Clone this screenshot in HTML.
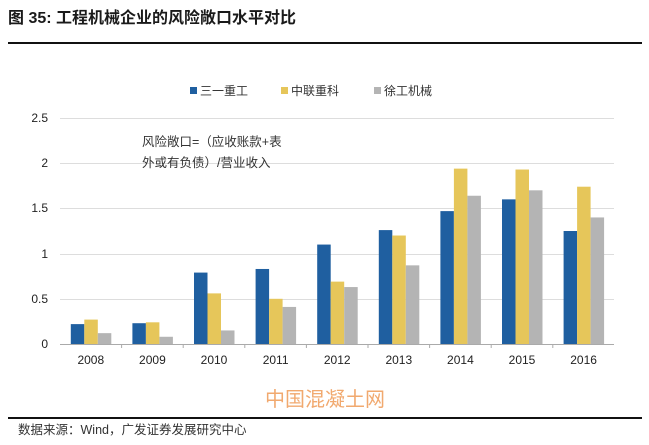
<!DOCTYPE html>
<html><head><meta charset="utf-8"><style>
body{margin:0;width:649px;height:440px;background:#fff;overflow:hidden;font-family:"Liberation Sans","Noto Sans CJK SC",sans-serif}
</style></head><body>
<svg width="649" height="440" xmlns="http://www.w3.org/2000/svg" font-family="Liberation Sans, Noto Sans CJK SC, sans-serif">
<text x="8" y="23" font-size="16" font-weight="bold" fill="#1a1a1a" font-family="Liberation Sans, Noto Sans CJK SC, sans-serif">图 35:  工程机械企业的风险敞口水平对比</text>
<rect x="8" y="42" width="634" height="2" fill="#111"/>
<rect x="190" y="87" width="7" height="7" fill="#1f5fa0"/><text x="200" y="95" font-size="12" fill="#333">三一重工</text>
<rect x="281" y="87" width="7" height="7" fill="#e6c65a"/><text x="291" y="95" font-size="12" fill="#333">中联重科</text>
<rect x="374" y="87" width="7" height="7" fill="#b4b4b4"/><text x="384" y="95" font-size="12" fill="#333">徐工机械</text>
<g stroke="#ddd" stroke-width="1">
<line x1="60" y1="118.5" x2="614" y2="118.5"/><line x1="60" y1="163.5" x2="614" y2="163.5"/><line x1="60" y1="208.5" x2="614" y2="208.5"/><line x1="60" y1="254.5" x2="614" y2="254.5"/><line x1="60" y1="299.5" x2="614" y2="299.5"/>
</g>
<line x1="60" y1="344.5" x2="614" y2="344.5" stroke="#aaa"/>
<g font-size="12" fill="#222" text-anchor="end">
<text x="48" y="122">2.5</text><text x="48" y="167">2</text><text x="48" y="212">1.5</text><text x="48" y="258">1</text><text x="48" y="303">0.5</text><text x="48" y="348">0</text>
</g>
<text x="142" y="146" font-size="12.5" fill="#333">风险敞口=（应收账款+表</text>
<text x="142" y="167" font-size="12.5" fill="#333">外或有负债）/营业收入</text>
<g id="bars"></g>
<g font-size="12" fill="#222" text-anchor="middle" id="labels"></g>
<text x="325" y="406" font-size="20" fill="#f0a060" text-anchor="middle" opacity="0.9">中国混凝土网</text>
<rect x="8" y="417" width="634" height="2" fill="#111"/>
<text x="18" y="434" font-size="12.5" fill="#333">数据来源：Wind，广发证券发展研究中心</text>
</svg>
<script>
var d=[[.22,.27,.12],[.23,.24,.08],[.79,.56,.15],[.83,.50,.41],[1.10,.69,.63],[1.26,1.20,.87],[1.47,1.94,1.64],[1.60,1.93,1.70],[1.25,1.74,1.40]];
var c=["#1f5fa0","#e6c65a","#b4b4b4"],s="",l="";
for(var i=0;i<9;i++){var cx=60+61.6*(i+.5);
for(var j=0;j<3;j++){var h=d[i][j]*90.4;s+='<rect x="'+(cx-20+j*13.5)+'" y="'+(344-h)+'" width="13.5" height="'+h+'" fill="'+c[j]+'"/>';}
l+='<text x="'+cx+'" y="364">'+(2008+i)+'</text>';
if(i>0)s+='<line x1="'+(60+61.6*i)+'" y1="344" x2="'+(60+61.6*i)+'" y2="348" stroke="#aaa"/>';}
document.getElementById("bars").innerHTML=s;document.getElementById("labels").innerHTML=l;
</script>
</body></html>
